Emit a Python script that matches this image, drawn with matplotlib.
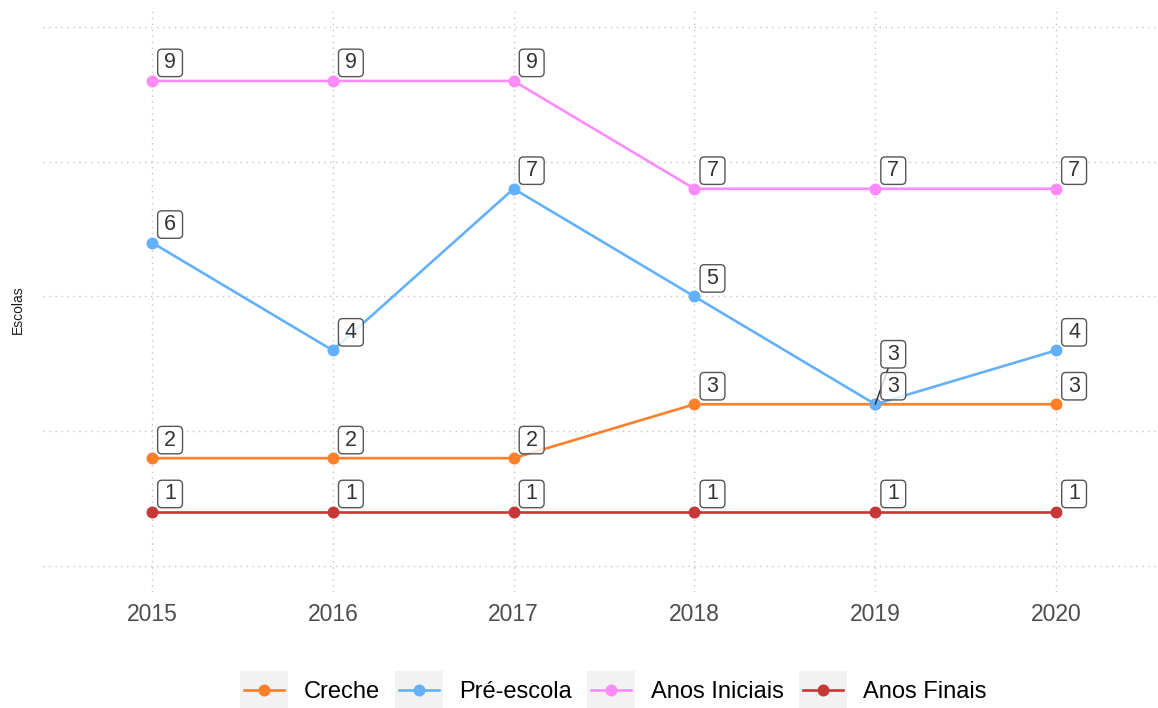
import matplotlib.pyplot as plt
from matplotlib.patches import Rectangle, BoxStyle
from matplotlib.lines import Line2D

plt.rcParams['font.family'] = ['Liberation Sans', 'DejaVu Sans']

W, H = 1158, 708

years = [2015, 2016, 2017, 2018, 2019, 2020]
series = ['Creche', 'Pré-escola', 'Anos Iniciais', 'Anos Finais']
creche = [2, 2, 2, 3, 3, 3]
pre_escola = [6, 4, 7, 5, 3, 4]
anos_iniciais = [9, 9, 9, 7, 7, 7]
anos_finais = [1, 1, 1, 1, 1, 1]
values = [creche, pre_escola, anos_iniciais, anos_finais]
colors = ['#fc7f2a', '#63b1fc', '#fd8bfb', '#c63838']

# labels pushed further up to avoid overlap (series, year) -> extra points
repel = {('Creche', 2019): 23}


def label_box(x0, y0, width, height, mutation_size):
    # rounded box, wider padding left/right than top/bottom
    px = 0.3 * mutation_size
    py = 0.15 * mutation_size
    return BoxStyle.Round(pad=0, rounding_size=0.2)(
        x0 - px, y0 - py, width + 2 * px, height + 2 * py, mutation_size)


fig = plt.figure(figsize=(W / 100, H / 100), dpi=100)
ax = fig.add_axes([43 / W, 1 - 592 / H, (W - 43) / W, (592 - 8) / H])

for name, vals, c in zip(series, values, colors):
    ax.plot(years, vals, color=c, lw=1.9, zorder=2, solid_capstyle='butt')
for name, vals, c in zip(series, values, colors):
    ax.plot(years, vals, 'o', color=c, ms=8.6, mec='none', zorder=3)

box = dict(boxstyle=label_box, fc=(1, 1, 1, 0.8), ec='#555555', lw=1.0)
for name, vals in zip(series, values):
    for yr, v in zip(years, vals):
        extra = repel.get((name, yr), 0)
        kw = {}
        if extra:
            kw['arrowprops'] = dict(arrowstyle='-', color='#333333', lw=1.1,
                                    shrinkA=0, shrinkB=0)
        ax.annotate(str(v), (yr, v), xytext=(13, 13 + extra),
                    textcoords='offset points', ha='center', va='center',
                    fontsize=15.5, color='#333333', bbox=box, zorder=5, **kw)

ax.set_xlim(2014.397, 2020.564)
ax.set_ylim(-0.484, 10.354)
ax.set_xticks(years)
ax.set_xticklabels([str(y) for y in years], fontsize=16.5, color='#4d4d4d')
ax.set_yticks([0, 2.5, 5, 7.5, 10])
ax.set_yticklabels([])
ax.tick_params(length=0, pad=8)
ax.grid(True, linestyle=(0, (1, 3.3)), linewidth=1, color='#c4c4c4')
ax.set_axisbelow(True)
for s in ax.spines.values():
    s.set_visible(False)

fig.text(18 / W, 1 - 310 / H, 'Escolas', rotation=90, fontsize=10,
         ha='center', va='center', color='#1a1a1a')

# legend drawn along the bottom with grey key backgrounds
key_left = [240, 395, 587, 799]
key_w, key_h, key_cy = 48, 38, 690
for x0, name, c in zip(key_left, series, colors):
    fig.add_artist(Rectangle((x0 / W, 1 - (key_cy + key_h / 2) / H),
                             key_w / W, key_h / H, transform=fig.transFigure,
                             fc='#f2f2f2', ec='none'))
    fig.add_artist(Line2D([(x0 + 4) / W, (x0 + key_w - 4) / W],
                          [1 - key_cy / H] * 2, transform=fig.transFigure,
                          color=c, lw=1.9))
    fig.add_artist(Line2D([(x0 + key_w / 2) / W], [1 - key_cy / H],
                          transform=fig.transFigure, marker='o', ms=8.6,
                          color=c, mec='none'))
    fig.text((x0 + key_w + 16) / W, 1 - (key_cy + 2) / H, name, fontsize=17,
             ha='left', va='center', color='black')

fig.savefig('out.png', dpi=100)
